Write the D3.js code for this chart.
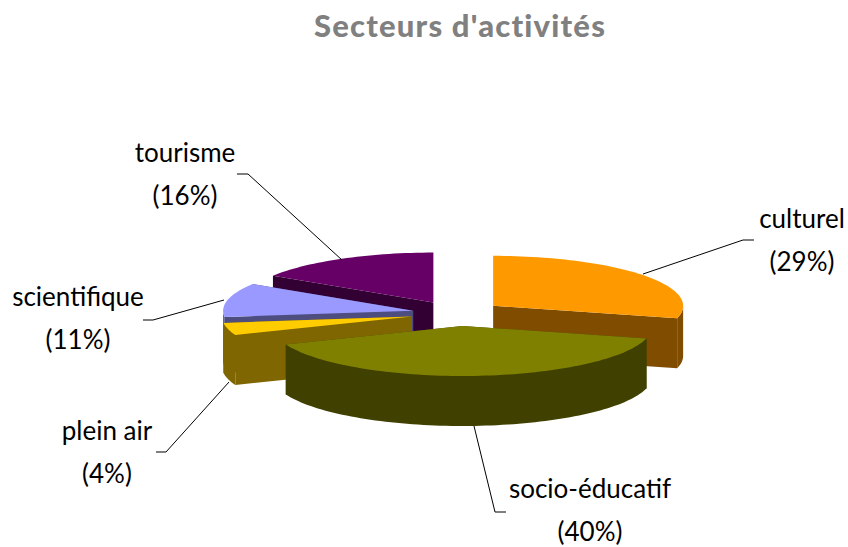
<!DOCTYPE html>
<html>
<head>
<meta charset="utf-8">
<script src="https://cdn.jsdelivr.net/npm/d3@7"></script>
<style>
html,body{margin:0;padding:0;background:#fff;}
svg{display:block;}
text{font-family:Lato,sans-serif;fill:#000;}
</style>
</head>
<body>
<div id="chart"></div>
<script>
var categories = ["culturel","socio-éducatif","plein air","scientifique","tourisme"]
var percents = [29,40,4,11,16]
var topColors = ["#ff9900","#808000","#ffcc00","#9999ff","#660066"]
var sideColors = ["#804d00","#404000","#806600","#4d4d80","#330033"]
var chartTitle = "Secteurs d'activités"

var width = 848, height = 547
var center = {x:456, y:313.5}
var rx = 190, ry = 50, depth = 50
var explodeX = 47, explodeY = 12.5
// small horizontal corrections of the exploded slices
var sliceNudge = [0,3.5,1.5,3,0]

// label layout, same order as categories: text centre and leader line
var labelPos = [
    {x:802, y:228, leader:[[754,240],[743,240],[643,274]]},
    {x:590, y:498, leader:[[506,512],[495,512],[474,426]]},
    {x:107, y:440, leader:[[156,452],[166,452],[229,382]]},
    {x:78, y:306, leader:[[143,320],[153,320],[224,300]]},
    {x:185, y:162, leader:[[237,174],[248,174],[342,260]]}
]

var svg = d3.select("#chart").append("svg")
    .attr("width", width)
    .attr("height", height)

svg.append("text")
    .attr("x", 460)
    .attr("y", 37)
    .attr("text-anchor", "middle")
    .style("font-size", "31px")
    .style("font-weight", "900")
    .style("letter-spacing", "1.2px")
    .style("fill", "#808080")
    .text(chartTitle)

var pie = d3.pie().sort(null).startAngle(0).endAngle(2*Math.PI)
var slices = pie(percents)

var line = d3.line()

function rim(c, angle){
    return [c.x + rx*Math.sin(angle), c.y - ry*Math.cos(angle)]
}
function down(p){
    return [p[0], p[1] + depth]
}
function rimPoints(c, a0, a1){
    var n = Math.max(2, Math.ceil((a1-a0)/0.03)), pts = []
    for(var i = 0; i <= n; i++)
        pts.push(rim(c, a0 + (a1-a0)*i/n))
    return pts
}

// back to front
var drawOrder = [4,3,0,2,1]

drawOrder.forEach(function(i){
    var d = slices[i]
    var mid = (d.startAngle + d.endAngle)/2
    var c = {x:center.x + explodeX*Math.sin(mid) + sliceNudge[i], y:center.y - explodeY*Math.cos(mid)}
    var g = svg.append("g").attr("class", "slice")
    var arc = rimPoints(c, d.startAngle, d.endAngle)
    var apex = [c.x, c.y]

    //cut faces, each one only shows if it looks towards the viewer
    var a = arc[0], b = arc[arc.length-1]
    ;[[apex,a],[apex,b]].forEach(function(seg){
        g.append("path")
            .attr("d", line([seg[0], seg[1], down(seg[1]), down(seg[0])]) + "Z")
            .attr("fill", sideColors[i])
    })

    //outer wall, front half of the rim only
    var front = arc.filter(function(p){ return p[1] >= c.y })
    if(front.length > 1){
        g.append("path")
            .attr("d", line(front.concat(front.map(down).reverse())) + "Z")
            .attr("fill", sideColors[i])
    }

    g.append("path")
        .attr("d", line([apex].concat(arc)) + "Z")
        .attr("fill", topColors[i])
})

categories.forEach(function(name, i){
    var pos = labelPos[i]
    svg.append("path")
        .attr("d", line(pos.leader))
        .attr("fill", "none")
        .attr("stroke", "#000")
        .attr("stroke-width", 1)
    svg.append("text")
        .attr("x", pos.x)
        .attr("y", pos.y)
        .attr("text-anchor", "middle")
        .style("font-size", "26px")
        .text(name)
    svg.append("text")
        .attr("x", pos.x)
        .attr("y", pos.y + 43)
        .attr("text-anchor", "middle")
        .style("font-size", "26px")
        .text("(" + percents[i] + "%)")
})
</script>
</body>
</html>
